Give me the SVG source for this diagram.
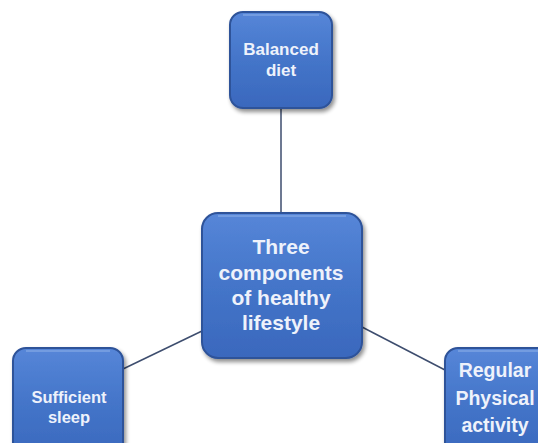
<svg xmlns="http://www.w3.org/2000/svg" width="538" height="443" viewBox="0 0 538 443">
<defs>
<linearGradient id="g" x1="0" y1="0" x2="0" y2="1">
<stop offset="0" stop-color="#5686d8"/>
<stop offset="0.5" stop-color="#4475c9"/>
<stop offset="1" stop-color="#3a68bd"/>
</linearGradient>
<filter id="sh" x="-20%" y="-20%" width="140%" height="140%">
<feGaussianBlur in="SourceAlpha" stdDeviation="2"/>
<feOffset dx="2" dy="3"/>
<feComponentTransfer><feFuncA type="linear" slope="0.45"/></feComponentTransfer>
<feMerge><feMergeNode/><feMergeNode in="SourceGraphic"/></feMerge>
</filter>
</defs>
<style>
.box{fill:url(#g);stroke:#2d5299;stroke-width:2;filter:url(#sh)}
.hl{fill:none;stroke:#8fb0e8;stroke-width:1.5;opacity:0.7}
.t{font-family:"Liberation Sans",Arial,sans-serif;font-weight:bold;fill:#eef2fb;text-anchor:middle}
.ln{stroke:#3d4d6e;stroke-width:1.5;fill:none}
</style>
<rect width="538" height="443" fill="#ffffff"/>
<g id="connectors">
<line class="ln" x1="281" y1="108" x2="281" y2="213"/>
<line class="ln" x1="123" y1="369" x2="202" y2="331"/>
<line class="ln" x1="362" y1="327" x2="445" y2="370"/>
</g>
<g id="node-diet">
<rect class="box" x="230" y="12" width="102" height="96" rx="13"/>
<path class="hl" d="M243 15 H319"/>
<text class="t" font-size="17"><tspan x="281" y="55">Balanced</tspan><tspan x="281" y="76">diet</tspan></text>
</g>
<g id="node-center">
<rect class="box" x="202" y="213" width="160" height="145" rx="16"/>
<path class="hl" d="M218 216 H346"/>
<text class="t" font-size="21"><tspan x="281" y="254">Three</tspan><tspan x="281" y="280">components</tspan><tspan x="281" y="305">of healthy</tspan><tspan x="281" y="330">lifestyle</tspan></text>
</g>
<g id="node-sleep">
<rect class="box" x="13" y="348" width="110" height="110" rx="13"/>
<path class="hl" d="M26 351 H110"/>
<text class="t" font-size="16.5"><tspan x="69" y="403">Sufficient</tspan><tspan x="69" y="423">sleep</tspan></text>
</g>
<g id="node-activity">
<rect class="box" x="445" y="348" width="110" height="110" rx="13"/>
<path class="hl" d="M458 351 H542"/>
<text class="t" font-size="19.5"><tspan x="495" y="377">Regular</tspan><tspan x="495" y="405">Physical</tspan><tspan x="495" y="432">activity</tspan></text>
</g>
</svg>
